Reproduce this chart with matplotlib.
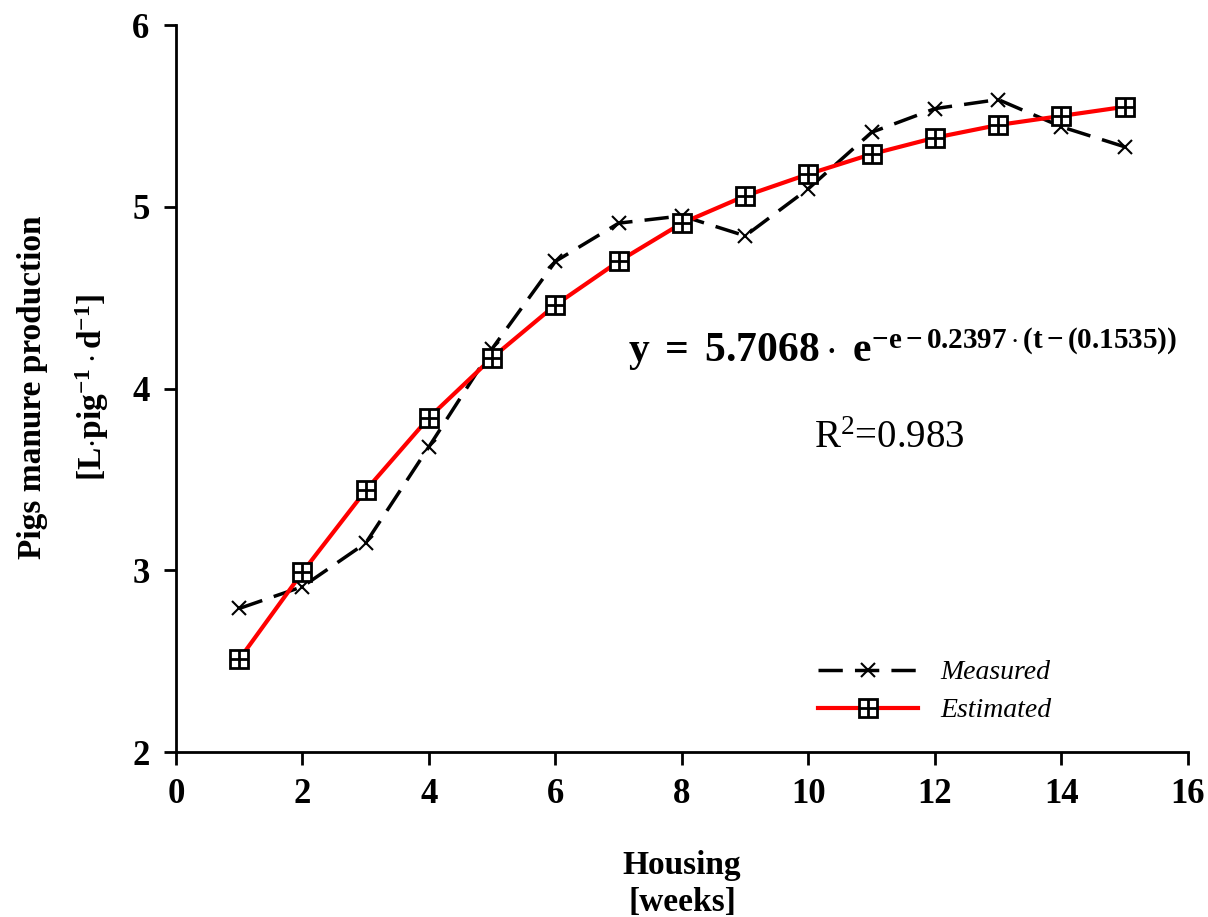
import matplotlib
matplotlib.use("Agg")
import matplotlib.pyplot as plt
from matplotlib.legend_handler import HandlerTuple

plt.rcParams['font.family'] = ['Liberation Serif', 'DejaVu Serif']
plt.rcParams['mathtext.fontset'] = 'custom'
plt.rcParams['mathtext.rm'] = 'Liberation Serif'
plt.rcParams['mathtext.bf'] = 'Liberation Serif:bold'
plt.rcParams['mathtext.it'] = 'Liberation Serif:italic'

################
## DATA
################

weeks = [1, 2, 3, 4, 5, 6, 7, 8, 9, 10, 11, 12, 13, 14, 15]
measured = [2.79, 2.91, 3.15, 3.68, 4.22, 4.70, 4.91, 4.95, 4.84, 5.10, 5.41, 5.54, 5.59, 5.44, 5.33]
estimated = [2.51, 2.99, 3.44, 3.84, 4.17, 4.46, 4.70, 4.91, 5.06, 5.18, 5.29, 5.38, 5.45, 5.50, 5.55]
x_ticks = [0, 2, 4, 6, 8, 10, 12, 14, 16]
y_ticks = [2, 3, 4, 5, 6]

################
## PLOT
################

fig = plt.figure(figsize=(12.08, 9.17), dpi=100)
ax = fig.add_axes([0.1457, 0.1799, 0.8377, 0.7928])

meas_line, = ax.plot(weeks, measured, color='black', lw=2.5, linestyle=(0, (7, 3.5)),
                     marker='x', markersize=10, markeredgewidth=1.5, zorder=3)
est_line, = ax.plot(weeks, estimated, color='red', lw=3, marker='s', markersize=13,
                    markerfacecolor='white', markeredgecolor='black', markeredgewidth=2, zorder=4)
est_plus, = ax.plot(weeks, estimated, linestyle='none', marker='+', markersize=13,
                    markeredgecolor='black', markeredgewidth=2, zorder=5)

ax.set_xlim(0, 16)
ax.set_ylim(2, 6)
ax.set_xticks(x_ticks)
ax.set_yticks(y_ticks)
for side in ['top', 'right']:
    ax.spines[side].set_visible(False)
for side in ['left', 'bottom']:
    ax.spines[side].set_linewidth(2)
ax.tick_params(direction='out', length=9, width=2, labelsize=25, pad=10)
for lbl in ax.get_xticklabels() + ax.get_yticklabels():
    lbl.set_fontweight('bold')

ax.set_xlabel("Housing\n[weeks]", fontsize=24, fontweight='bold', labelpad=28, linespacing=1.25)

# y label, two lines placed by hand (wide gap between them)
fig.text(33 / 1208, 0.578, "Pigs manure production", rotation=90, fontsize=24,
         fontweight='bold', ha='center', va='center')
fig.text(92 / 1208, 0.578, r"[L$\cdot$pig$^{\mathbf{-1}}\cdot$d$^{\mathbf{-1}}$]", rotation=90,
         fontsize=24, fontweight='bold', ha='center', va='center')

# fitted equation
ax.text(0.447, 0.536, r"$\mathbf{y\ =\ 5.7068\cdot\ e^{-e-0.2397\cdot(t-(0.1535))}}$",
        transform=ax.transAxes, fontsize=30, ha='left', va='baseline')
ax.text(0.63, 0.418, r"R$^2$=0.983", transform=ax.transAxes, fontsize=28,
        ha='left', va='baseline')

leg = ax.legend([meas_line, (est_line, est_plus)], ["Measured", "Estimated"],
                handler_map={tuple: HandlerTuple(ndivide=1)},
                loc='lower right', bbox_to_anchor=(0.89, 0.005), frameon=False,
                handlelength=3.6, fontsize=20, labelspacing=0.45)
for t in leg.get_texts():
    t.set_fontstyle('italic')

fig.savefig("out.png", dpi=100)
